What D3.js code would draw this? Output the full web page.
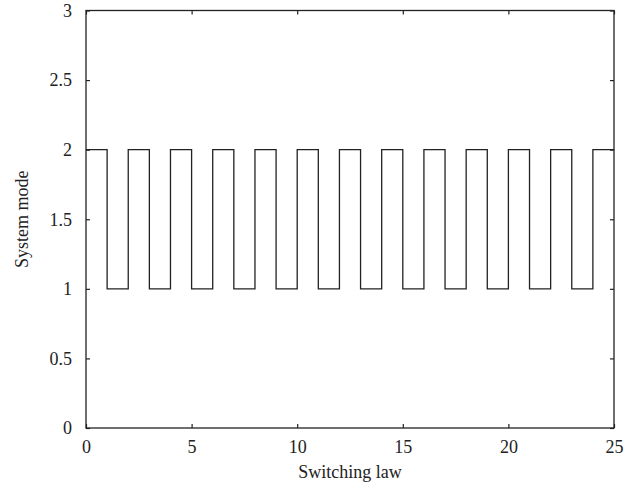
<!DOCTYPE html>
<html lang="en">
<head>
  <meta charset="UTF-8" />
  <title>Switching law</title>
  <script src="https://d3js.org/d3.v7.min.js"></script>
  <style>
    html, body {
      margin: 0;
      padding: 0;
      background: white;
      overflow: hidden;
    }
  </style>
</head>
<body>
  <svg id="chart" width="626" height="491"></svg>

  <script>
    // switching instants and the mode that holds from each instant on
    const switchTimes = [0, 1, 2, 3, 4, 5, 6, 7, 8, 9, 10, 11, 12, 13, 14, 15, 16, 17, 18, 19, 20, 21, 22, 23, 24, 25];
    const modes       = [2, 1, 2, 1, 2, 1, 2, 1, 2, 1, 2, 1, 2, 1, 2, 1, 2, 1, 2, 1, 2, 1, 2, 1, 2, 2];
    const xTicks = [0, 5, 10, 15, 20, 25];
    const yTicks = [0, 0.5, 1, 1.5, 2, 2.5, 3];

    const FONT = "Liberation Serif";
    const FONT_SIZE = 18;
    const INK = "#222";

    const margin = { top: 10.5, right: 12, bottom: 63, left: 86 };
    const width = 626 - margin.left - margin.right;
    const height = 491 - margin.top - margin.bottom;
    const tickLen = 4;

    const svg = d3.select("#chart");
    const g = svg.append("g")
      .attr("transform", `translate(${margin.left},${margin.top})`);

    const x = d3.scaleLinear().domain([0, 25]).range([0, width]);
    const y = d3.scaleLinear().domain([0, 3]).range([height, 0]);

    const data = switchTimes.map((t, i) => ({ t: t, m: modes[i] }));

    // signal
    const line = d3.line()
      .x(d => x(d.t))
      .y(d => y(d.m))
      .curve(d3.curveStepAfter);

    g.append("path")
      .datum(data)
      .attr("fill", "none")
      .attr("stroke", INK)
      .attr("stroke-width", 1.3)
      .attr("d", line);

    // axes, ticks pointing inward on all four sides
    function styleAxis(sel) {
      sel.attr("font-family", null).attr("font-size", null);
      sel.select(".domain").remove();
      sel.selectAll(".tick line").attr("stroke", INK).attr("stroke-width", 1.2);
      sel.selectAll(".tick text")
        .attr("font-family", FONT)
        .attr("font-size", FONT_SIZE)
        .attr("fill", INK);
    }

    g.append("g")
      .attr("transform", `translate(0,${height})`)
      .call(d3.axisBottom(x).tickValues(xTicks).tickFormat(d3.format("d"))
        .tickSizeInner(-tickLen).tickSizeOuter(0).tickPadding(12))
      .call(styleAxis);

    g.append("g")
      .call(d3.axisTop(x).tickValues(xTicks).tickFormat("")
        .tickSizeInner(-tickLen).tickSizeOuter(0))
      .call(styleAxis);

    g.append("g")
      .call(d3.axisLeft(y).tickValues(yTicks).tickFormat(d3.format("~g"))
        .tickSizeInner(-tickLen).tickSizeOuter(0).tickPadding(14))
      .call(styleAxis);

    g.append("g")
      .attr("transform", `translate(${width},0)`)
      .call(d3.axisRight(y).tickValues(yTicks).tickFormat("")
        .tickSizeInner(-tickLen).tickSizeOuter(0))
      .call(styleAxis);

    // frame
    g.append("rect")
      .attr("width", width)
      .attr("height", height)
      .attr("fill", "none")
      .attr("stroke", INK)
      .attr("stroke-width", 1.3);

    // axis titles
    g.append("text")
      .attr("x", width / 2)
      .attr("y", height + 50)
      .attr("text-anchor", "middle")
      .attr("font-family", FONT)
      .attr("font-size", FONT_SIZE)
      .attr("fill", INK)
      .text("Switching law");

    g.append("text")
      .attr("transform", `translate(${22 - margin.left},${height / 2}) rotate(-90)`)
      .attr("text-anchor", "middle")
      .attr("dy", "0.35em")
      .attr("font-family", FONT)
      .attr("font-size", FONT_SIZE)
      .attr("fill", INK)
      .text("System mode");
  </script>
</body>
</html>
